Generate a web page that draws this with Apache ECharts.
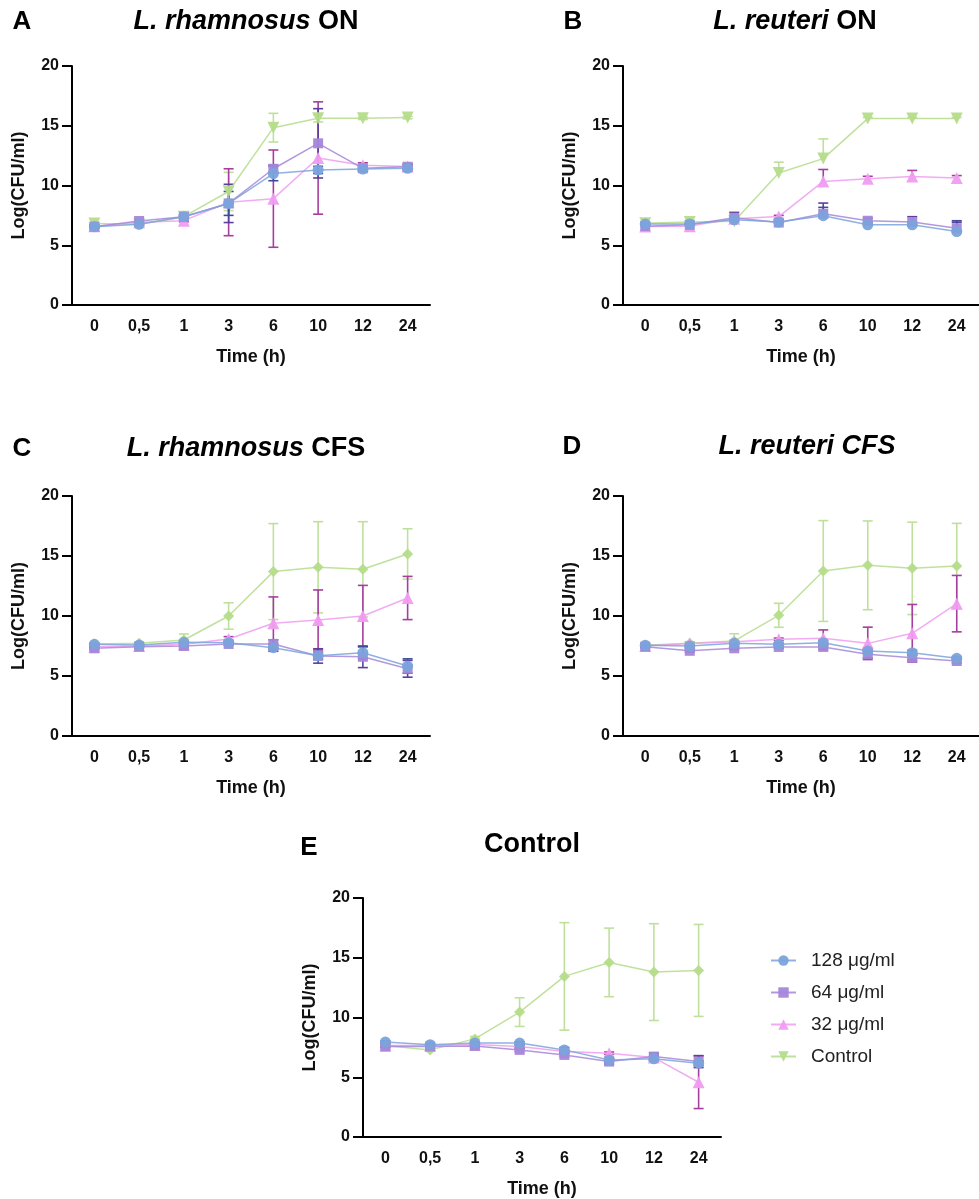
<!DOCTYPE html>
<html>
<head>
<meta charset="utf-8">
<script src="https://cdn.jsdelivr.net/npm/echarts@6/dist/echarts.min.js"></script>
<style>
html, body { margin: 0; background: #fff; }
#chart { width: 979px; height: 1199px; }
</style>
</head>
<body>
<div id="chart"></div>
<script>
var times = ['0', '0,5', '1', '3', '6', '10', '12', '24'];
var groups = ['128 μg/ml', '64 μg/ml', '32 μg/ml', 'Control'];
var yTicks = [0, 5, 10, 15, 20];

// A - L. rhamnosus ON
var a128 = [6.55, 6.75, 7.39, 8.5, 11.0, 11.3, 11.38, 11.44];
var a64 = [6.55, 7.03, 7.39, 8.5, 11.4, 13.53, 11.44, 11.57];
var a32 = [6.6, 6.92, 7.06, 8.6, 8.9, 12.3, 11.7, 11.6];
var aCtl = [6.83, 6.75, 7.39, 9.5, 14.84, 15.62, 15.62, 15.68];
var a128Sd = [0.1, 0.1, 0.15, 1.0, 0.6, 0.3, 0.2, 0.2];
var a64Sd = [0.1, 0.1, 0.15, 1.6, 0.3, 2.9, 0.2, 0.2];
var a32Sd = [0.1, 0.1, 0.1, 2.8, 4.07, 4.7, 0.2, 0.2];
var aCtlSd = [0.1, 0.1, 0.1, 1.6, 1.2, 0.3, 0.1, 0.1];

// B - L. reuteri ON
var b128 = [6.77, 6.77, 7.13, 6.94, 7.47, 6.71, 6.71, 6.15];
var b64 = [6.6, 6.71, 7.3, 6.9, 7.63, 7.05, 6.94, 6.43];
var b32 = [6.57, 6.6, 7.21, 7.4, 10.34, 10.57, 10.76, 10.63];
var bCtl = [6.85, 6.94, 7.0, 11.05, 12.25, 15.6, 15.6, 15.6];
var b128Sd = [0.1, 0.1, 0.3, 0.2, 0.7, 0.2, 0.2, 0.9];
var b64Sd = [0.1, 0.1, 0.45, 0.2, 0.9, 0.2, 0.45, 0.5];
var b32Sd = [0.1, 0.1, 0.1, 0.1, 1.0, 0.2, 0.5, 0.2];
var bCtlSd = [0.1, 0.1, 0.1, 0.9, 1.65, 0.1, 0.1, 0.1];

// C - L. rhamnosus CFS
var c128 = [7.64, 7.58, 7.81, 7.78, 7.36, 6.69, 6.94, 5.83];
var c64 = [7.31, 7.44, 7.5, 7.67, 7.67, 6.67, 6.6, 5.6];
var c32 = [7.44, 7.5, 7.64, 8.08, 9.39, 9.67, 10.0, 11.5];
var cCtl = [7.67, 7.72, 8.0, 10.0, 13.7, 14.06, 13.89, 15.17];
var c128Sd = [0.1, 0.1, 0.1, 0.1, 0.3, 0.3, 0.5, 0.6];
var c64Sd = [0.1, 0.1, 0.1, 0.1, 0.35, 0.6, 0.9, 0.7];
var c32Sd = [0.1, 0.1, 0.1, 0.2, 2.2, 2.5, 2.55, 1.8];
var cCtlSd = [0.1, 0.1, 0.5, 1.1, 4.0, 3.8, 3.97, 2.1];

// D - L. reuteri CFS
var d128 = [7.56, 7.5, 7.72, 7.64, 7.78, 7.08, 6.94, 6.47];
var d64 = [7.44, 7.1, 7.31, 7.42, 7.42, 6.81, 6.53, 6.25];
var d32 = [7.5, 7.7, 7.86, 8.06, 8.14, 7.72, 8.56, 11.03];
var dCtl = [7.56, 7.72, 7.92, 10.06, 13.75, 14.22, 13.97, 14.17];
var d128Sd = [0.1, 0.1, 0.1, 0.1, 0.2, 0.2, 0.2, 0.15];
var d64Sd = [0.1, 0.1, 0.1, 0.1, 0.2, 0.3, 0.2, 0.15];
var d32Sd = [0.1, 0.1, 0.1, 0.1, 0.7, 1.35, 2.4, 2.35];
var dCtlSd = [0.1, 0.1, 0.6, 1.0, 4.2, 3.7, 3.85, 3.55];

// E - Control
var e128 = [7.94, 7.73, 7.86, 7.86, 7.29, 6.45, 6.54, 6.18];
var e64 = [7.57, 7.57, 7.62, 7.29, 6.87, 6.31, 6.73, 6.31];
var e32 = [7.66, 7.66, 7.74, 7.57, 7.15, 7.01, 6.65, 4.58];
var eCtl = [7.66, 7.29, 8.21, 10.45, 13.44, 14.61, 13.8, 13.94];
var e128Sd = [0.1, 0.1, 0.1, 0.1, 0.2, 0.2, 0.2, 0.2];
var e64Sd = [0.1, 0.1, 0.1, 0.1, 0.1, 0.2, 0.3, 0.5];
var e32Sd = [0.1, 0.1, 0.1, 0.1, 0.1, 0.1, 0.2, 2.2];
var eCtlSd = [0.1, 0.1, 0.2, 1.2, 4.5, 2.87, 4.05, 3.85];

var FONT = '"Liberation Sans", Arial, sans-serif';
var lineColors = ['#7ba3db', '#a487d8', '#f09cf0', '#b5dc8a'];
var barColors = ['#3b4c9b', '#5d3e9c', '#a63ea0', '#bfe09c'];
var downTri = 'path://M0,0 L10,0 L5,9 Z';

var panels = [
  { grid: { left: 72, top: 66, width: 358, height: 239 }, means: [a128, a64, a32, aCtl], sds: [a128Sd, a64Sd, a32Sd, aCtlSd], ctlSym: downTri, upOnly: false },
  { grid: { left: 623, top: 66, width: 358, height: 239 }, means: [b128, b64, b32, bCtl], sds: [b128Sd, b64Sd, b32Sd, bCtlSd], ctlSym: downTri, upOnly: true },
  { grid: { left: 72, top: 496, width: 358, height: 240 }, means: [c128, c64, c32, cCtl], sds: [c128Sd, c64Sd, c32Sd, cCtlSd], ctlSym: 'diamond', upOnly: false },
  { grid: { left: 623, top: 496, width: 358, height: 240 }, means: [d128, d64, d32, dCtl], sds: [d128Sd, d64Sd, d32Sd, dCtlSd], ctlSym: 'diamond', upOnly: false },
  { grid: { left: 363, top: 898, width: 358, height: 239 }, means: [e128, e64, e32, eCtl], sds: [e128Sd, e64Sd, e32Sd, eCtlSd], ctlSym: 'diamond', upOnly: false }
];

function errRender(upOnly) {
  return function (params, api) {
    var i = api.value(0);
    var top = api.coord([i, api.value(2)]);
    var bot = api.coord([i, api.value(1)]);
    var style = api.style({ stroke: api.visual('color'), lineWidth: 1.6 });
    var kids = [
      { type: 'line', shape: { x1: top[0], y1: top[1], x2: bot[0], y2: bot[1] }, style: style },
      { type: 'line', shape: { x1: top[0] - 5, y1: top[1], x2: top[0] + 5, y2: top[1] }, style: style }
    ];
    if (!upOnly) {
      kids.push({ type: 'line', shape: { x1: bot[0] - 5, y1: bot[1], x2: bot[0] + 5, y2: bot[1] }, style: style });
    }
    return { type: 'group', children: kids };
  };
}

var grids = [], xAxes = [], yAxes = [], series = [];
var drawOrder = [3, 2, 1, 0];

panels.forEach(function (p, k) {
  grids.push(p.grid);
  xAxes.push({
    type: 'category', gridIndex: k, data: times, boundaryGap: true,
    axisLine: { lineStyle: { color: '#000', width: 2 } },
    axisTick: { alignWithLabel: true, length: 7, lineStyle: { color: '#000', width: 2 } },
    axisLabel: { color: '#111', fontWeight: 'bold', fontSize: 16, fontFamily: FONT, margin: 14 },
    name: 'Time (h)', nameLocation: 'middle', nameGap: 43,
    nameTextStyle: { color: '#111', fontWeight: 'bold', fontSize: 18, fontFamily: FONT }
  });
  yAxes.push({
    type: 'value', gridIndex: k, min: yTicks[0], max: yTicks[yTicks.length - 1], interval: 5,
    splitLine: { show: false },
    axisLine: { show: true, lineStyle: { color: '#000', width: 2 } },
    axisTick: { show: true, length: 10, lineStyle: { color: '#000', width: 2 } },
    axisLabel: { color: '#111', fontWeight: 'bold', fontSize: 16, fontFamily: FONT, margin: 13 },
    name: 'Log(CFU/ml)', nameLocation: 'middle', nameGap: 44,
    nameTextStyle: { color: '#111', fontWeight: 'bold', fontSize: 18, fontFamily: FONT }
  });
  drawOrder.forEach(function (g) {
    var errData = p.means[g].map(function (m, i) {
      return [i, p.upOnly ? m : m - p.sds[g][i], m + p.sds[g][i]];
    });
    series.push({
      type: 'custom', name: groups[g] + ' err', xAxisIndex: k, yAxisIndex: k,
      renderItem: errRender(p.upOnly), encode: { x: 0, y: [1, 2] },
      itemStyle: { color: barColors[g] }, data: errData, z: 1, silent: true
    });
  });
  drawOrder.forEach(function (g) {
    var sym = ['circle', 'rect', 'triangle', p.ctlSym][g];
    var size = [11, 10, 12, g === 3 && p.ctlSym === 'diamond' ? 11 : 12][g];
    series.push({
      type: 'line', name: groups[g], xAxisIndex: k, yAxisIndex: k,
      data: p.means[g], symbol: sym, symbolSize: size,
      lineStyle: { color: lineColors[g], width: 1.5, opacity: 0.85 },
      itemStyle: { color: lineColors[g], opacity: 0.95 },
      z: 2, silent: true
    });
  });
});

function label(x, y, text) {
  return { type: 'text', x: x, y: y, style: { text: text, font: 'bold 26px ' + FONT, fill: '#000', textAlign: 'center', textVerticalAlign: 'middle' } };
}
function title(x, y, text) {
  return {
    type: 'text', x: x, y: y,
    style: {
      text: text, font: 'bold 27px ' + FONT, fill: '#000', textAlign: 'center', textVerticalAlign: 'middle',
      rich: { i: { fontStyle: 'italic', fontWeight: 'bold', fontSize: 27, fontFamily: FONT, fill: '#000' } }
    }
  };
}

var chart = echarts.init(document.getElementById('chart'));
chart.setOption({
  animation: false,
  backgroundColor: '#fff',
  grid: grids,
  xAxis: xAxes,
  yAxis: yAxes,
  legend: {
    data: groups, orient: 'vertical', left: 765, top: 946, itemWidth: 25, itemHeight: 13, itemGap: 13,
    selectedMode: false,
    textStyle: { fontSize: 19, color: '#222', fontFamily: FONT, padding: [0, 0, 0, 10] }
  },
  graphic: [
    label(22, 22, 'A'), title(246, 22, '{i|L. rhamnosus} ON'),
    label(573, 22, 'B'), title(795, 22, '{i|L. reuteri} ON'),
    label(22, 449, 'C'), title(246, 449, '{i|L. rhamnosus} CFS'),
    label(572, 447, 'D'), title(807, 447, '{i|L. reuteri CFS}'),
    label(309, 848, 'E'), title(532, 845, 'Control')
  ],
  series: series
});
</script>
</body>
</html>
